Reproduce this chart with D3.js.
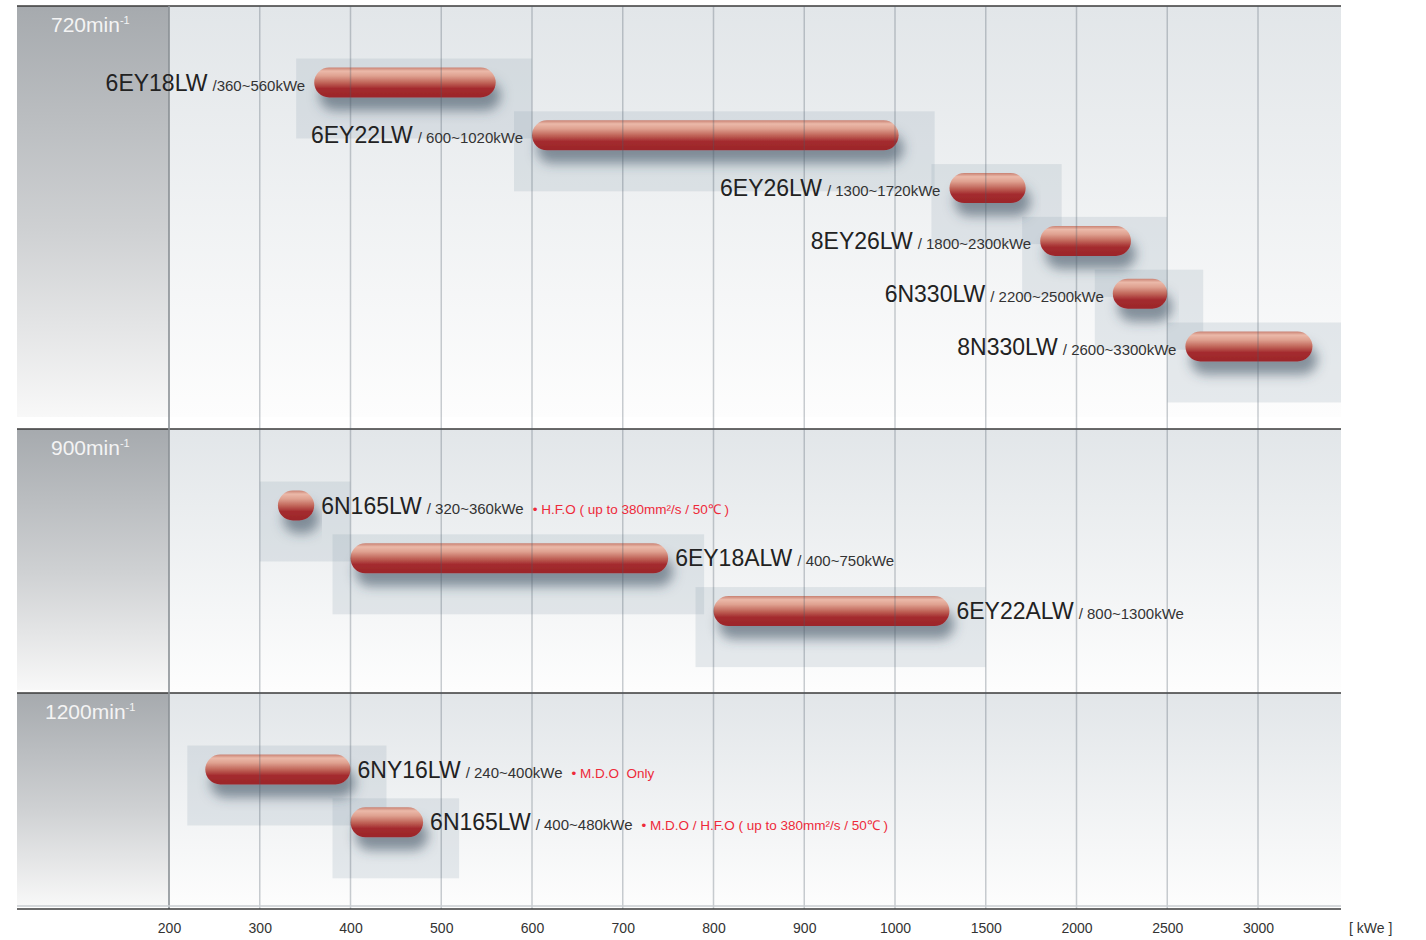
<!DOCTYPE html>
<html>
<head>
<meta charset="utf-8">
<script src="https://cdn.jsdelivr.net/npm/d3@7"></script>
<style>
  html, body { margin: 0; padding: 0; background: #ffffff; }
  svg { display: block; font-family: "Liberation Sans", Arial, sans-serif; }
  .note { white-space: pre; }
</style>
</head>
<body>
<svg id="viz" width="1426" height="940"></svg>
<script>
// data
var speeds = ["720", "900", "1200"];
var models = ["6EY18LW", "6EY22LW", "6EY26LW", "8EY26LW", "6N330LW", "8N330LW",
              "6N165LW", "6EY18ALW", "6EY22ALW",
              "6NY16LW", "6N165LW"];
var minKw = [360, 600, 1300, 1800, 2200, 2600, 320, 400, 800, 240, 400];
var maxKw = [560, 1020, 1720, 2300, 2500, 3300, 360, 750, 1300, 400, 480];
var speedOf = [0, 0, 0, 0, 0, 0, 1, 1, 1, 2, 2];
var rangeText = ["/360~560kWe", "/ 600~1020kWe", "/ 1300~1720kWe", "/ 1800~2300kWe",
                 "/ 2200~2500kWe", "/ 2600~3300kWe", "/ 320~360kWe", "/ 400~750kWe",
                 "/ 800~1300kWe", "/ 240~400kWe", "/ 400~480kWe"];
var notes = ["", "", "", "", "", "", "H.F.O ( up to 380mm²/s / 50℃ )", "", "",
             "M.D.O  Only", "M.D.O / H.F.O ( up to 380mm²/s / 50℃ )"];
var tickVals = [200, 300, 400, 500, 600, 700, 800, 900, 1000, 1500, 2000, 2500, 3000];

// layout
var svg = d3.select("#viz");
var left = 17, bandRight = 169, right = 1341, lastTick = 1258;
var panelTop = [6, 429, 693], panelBottom = [417, 690, 906];
var axisY = 909, rowStep = 52.8, barH = 30;

// piecewise scale: equal spacing between ticks even though steps change
var step = (lastTick - bandRight) / (tickVals.length - 1);
var x = d3.scaleLinear()
    .domain(tickVals)
    .range(tickVals.map((d, i) => bandRight + i * step));

var defs = svg.append("defs");

var bg = defs.append("linearGradient").attr("id", "panelBg")
    .attr("x1", 0).attr("y1", 0).attr("x2", 0).attr("y2", 1);
bg.append("stop").attr("offset", "0%").attr("stop-color", "#e2e6e9");
bg.append("stop").attr("offset", "100%").attr("stop-color", "#fdfdfd");

var band = defs.append("linearGradient").attr("id", "bandBg")
    .attr("x1", 0).attr("y1", 0).attr("x2", 0).attr("y2", 1);
band.append("stop").attr("offset", "0%").attr("stop-color", "#a6aaae");
band.append("stop").attr("offset", "55%").attr("stop-color", "#cfd1d3");
band.append("stop").attr("offset", "100%").attr("stop-color", "#f8f8f8");

var pill = defs.append("linearGradient").attr("id", "pill")
    .attr("x1", 0).attr("y1", 0).attr("x2", 0).attr("y2", 1);
[["0%", "#c98273"], ["12%", "#ebb9a9"], ["28%", "#dfa190"], ["50%", "#c1665a"],
 ["70%", "#a42c2f"], ["100%", "#9b2529"]].forEach(s =>
    pill.append("stop").attr("offset", s[0]).attr("stop-color", s[1]));

var shadow = defs.append("filter").attr("id", "shadow")
    .attr("x", "-20%").attr("y", "-50%").attr("width", "140%").attr("height", "250%");
shadow.append("feDropShadow")
    .attr("dx", 5).attr("dy", 13).attr("stdDeviation", 6)
    .attr("flood-color", "#34495a").attr("flood-opacity", 0.55);

defs.append("clipPath").attr("id", "plotClip").append("rect")
    .attr("x", left).attr("y", 0).attr("width", right - left).attr("height", axisY);

// panels
speeds.forEach((s, i) => {
    var h = panelBottom[i] - panelTop[i];
    svg.append("rect").attr("x", left).attr("y", panelTop[i])
        .attr("width", right - left).attr("height", h).attr("fill", "url(#panelBg)");
    svg.append("rect").attr("x", left).attr("y", panelTop[i])
        .attr("width", bandRight - left).attr("height", h).attr("fill", "url(#bandBg)");
    svg.append("line").attr("x1", left).attr("x2", right)
        .attr("y1", panelTop[i]).attr("y2", panelTop[i])
        .attr("stroke", "#3a3a3a").attr("stroke-width", 1.5);
    var t = svg.append("text").attr("x", i == 2 ? 45 : 51).attr("y", panelTop[i] + 26)
        .attr("fill", "#f4f4f4").attr("font-size", 21).text(s + "min");
    t.append("tspan").attr("dy", -8).attr("font-size", 11).text("-1");
});

// row position of each model inside its panel
var idx = d3.range(models.length);
var rowIdx = speedOf.map((p, i) => speedOf.slice(0, i).filter(q => q == p).length);
var cy = i => panelTop[speedOf[i]] + 76.5 + rowIdx[i] * rowStep;

// translucent backdrop boxes
svg.append("g").attr("clip-path", "url(#plotClip)")
    .selectAll("rect").data(idx).enter().append("rect")
    .attr("x", i => x(minKw[i]) - 18)
    .attr("y", i => cy(i) - barH / 2 - 9)
    .attr("width", i => x(maxKw[i]) - x(minKw[i]) + 54)
    .attr("height", barH + 50)
    .attr("fill", "#8ea2b0").attr("opacity", 0.2);

// bars
svg.append("g").selectAll("rect").data(idx).enter().append("rect")
    .attr("x", i => x(minKw[i]))
    .attr("y", i => cy(i) - barH / 2)
    .attr("width", i => x(maxKw[i]) - x(minKw[i]))
    .attr("height", barH)
    .attr("rx", barH / 2).attr("ry", barH / 2)
    .attr("fill", "url(#pill)")
    .attr("filter", "url(#shadow)");

// grid lines drawn over the bars
svg.append("g").selectAll("line").data(tickVals).enter().append("line")
    .attr("x1", d => x(d)).attr("x2", d => x(d))
    .attr("y1", panelTop[0]).attr("y2", axisY)
    .attr("stroke", "#4d5a66").attr("stroke-opacity", 0.3).attr("stroke-width", 1.5);
svg.append("line").attr("x1", bandRight).attr("x2", bandRight)
    .attr("y1", panelTop[0]).attr("y2", axisY)
    .attr("stroke", "#8f9499").attr("stroke-width", 1.5);

// bottom axis
svg.append("line").attr("x1", left).attr("x2", right).attr("y1", axisY - 3).attr("y2", axisY - 3)
    .attr("stroke", "#c8cdd1").attr("stroke-width", 1.5);
svg.append("line").attr("x1", left).attr("x2", right).attr("y1", axisY).attr("y2", axisY)
    .attr("stroke", "#3a3a3a").attr("stroke-width", 1.5);
var axis = d3.axisBottom(x).tickValues(tickVals).tickSize(0).tickPadding(14)
    .tickFormat(d3.format("d"));
var ax = svg.append("g").attr("transform", "translate(0," + axisY + ")").call(axis);
ax.select(".domain").remove();
ax.selectAll("text").attr("font-size", 14).attr("fill", "#333")
    .attr("font-family", "'Liberation Sans', Arial, sans-serif");
svg.append("text").attr("x", 1349).attr("y", 933).attr("font-size", 14)
    .attr("fill", "#333").text("[ kWe ]");

// labels: left of the bar in the 720 panel, right of it elsewhere
var labels = svg.append("g").selectAll("text").data(idx).enter().append("text")
    .attr("x", i => speedOf[i] == 0 ? x(minKw[i]) - 9 : x(maxKw[i]) + 7)
    .attr("y", i => cy(i) + 8)
    .attr("text-anchor", i => speedOf[i] == 0 ? "end" : "start")
    .attr("fill", "#222");
labels.append("tspan").attr("font-size", 23).text(i => models[i]);
labels.append("tspan").attr("font-size", 15).attr("dx", 5).attr("fill", "#333")
    .text(i => rangeText[i]);
labels.filter(i => notes[i] != "").append("tspan")
    .attr("class", "note")
    .attr("font-size", 13.5).attr("dx", 9).attr("fill", "#ee2a3a")
    .text(i => "• " + notes[i]);
</script>
</body>
</html>
